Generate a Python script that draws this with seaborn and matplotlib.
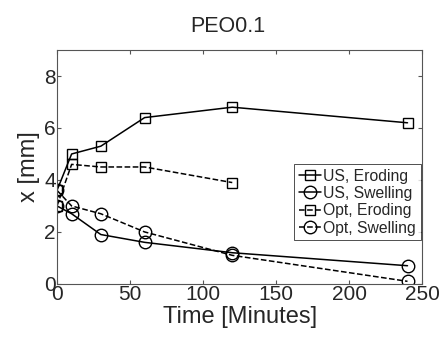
import pandas as pd
import matplotlib
matplotlib.use("Agg")
import matplotlib.pyplot as plt
import seaborn as sns

# data
time = [0, 10, 30, 60, 120, 240]
us_eroding = [3.6, 5.0, 5.3, 6.4, 6.8, 6.2]
us_swelling = [3.0, 2.7, 1.9, 1.6, 1.2, 0.7]
opt_time = [0, 10, 30, 60, 120]
opt_eroding = [3.0, 4.6, 4.5, 4.5, 3.9]
opt_swelling = [3.6, 3.0, 2.7, 2.0, 1.1, 0.1]

series = [
    ("US, Eroding", time, us_eroding, "-", "s"),
    ("US, Swelling", time, us_swelling, "-", "o"),
    ("Opt, Eroding", opt_time, opt_eroding, "--", "s"),
    ("Opt, Swelling", time, opt_swelling, "--", "o"),
]

sns.set_style("ticks")
plt.rcParams['font.family'] = ['Liberation Sans', 'DejaVu Sans']

fig = plt.figure(figsize=(4.42, 3.38), dpi=100)
ax = fig.add_axes([0.129, 0.160, 0.826, 0.692])

for name, t, vals, ls, mk in series:
    df = pd.DataFrame({"t": t, "x": vals})
    sns.lineplot(data=df, x="t", y="x", ax=ax, color="black", linestyle=ls,
                 linewidth=1.1, marker=mk, markersize=9 if mk == "o" else 7.5,
                 markerfacecolor="none", markeredgecolor="black",
                 markeredgewidth=1.0, label=name)

ax.set_xlim(0, 250)
ax.set_ylim(0, 9)
ax.set_xticks([0, 50, 100, 150, 200, 250])
ax.set_yticks([0, 2, 4, 6, 8])
ax.tick_params(direction="in", top=True, right=True, labelsize=15, length=3,
               color="#555555", pad=1)
for s in ax.spines.values():
    s.set_color("#555555")
    s.set_linewidth(0.8)

ax.set_xlabel("Time [Minutes]", fontsize=17, labelpad=1)
ax.set_ylabel("x [mm]", fontsize=17, labelpad=3)
fig.text(228 / 442, 1 - 27 / 338, "PEO0.1", fontsize=15.5, ha="center", va="center")

leg = ax.legend(loc="center right", bbox_to_anchor=(1.0, 0.35), fontsize=11.3,
                frameon=True, fancybox=False, edgecolor="black",
                handlelength=1.4, handletextpad=0.15, borderpad=0.3,
                labelspacing=0.15, borderaxespad=0.1)
leg.get_frame().set_linewidth(0.6)

fig.savefig("out.png", dpi=100)
